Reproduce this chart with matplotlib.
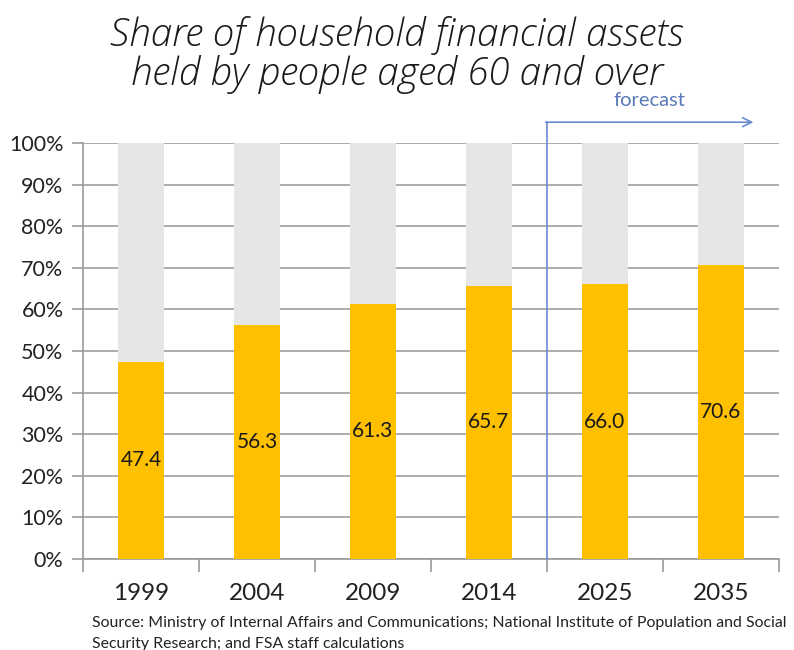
# Share of household financial assets held by people aged 60 and over

import numpy as np
import matplotlib.pyplot as plt

years = ['1999', '2004', '2009', '2014', '2025', '2035']
share_60_plus = [47.4, 56.3, 61.3, 65.7, 66.0, 70.6]
rest = [100 - v for v in share_60_plus]
y_ticks = [0, 10, 20, 30, 40, 50, 60, 70, 80, 90, 100]

plt.rcParams['font.family'] = ['Lato', 'DejaVu Sans']

fig = plt.figure(figsize=(7.94, 6.5), dpi=100)
ax = fig.add_axes([0.1045, 0.14, 0.8765, 0.64])

x = np.arange(len(years))
ax.bar(x, share_60_plus, width=0.39, color='#ffc000', zorder=3)
ax.bar(x, rest, width=0.39, bottom=share_60_plus, color='#e6e6e6', zorder=3)

# value labels in the middle of the orange part
for xi, v in zip(x, share_60_plus):
    ax.text(xi, v / 2, f'{v:.1f}', ha='center', va='center', fontsize=15,
            color='#1a1a1a', zorder=4)

ax.set_xlim(-0.5, len(years) - 0.5)
ax.set_ylim(0, 100)
ax.set_yticks(y_ticks)
ax.set_yticklabels([f'{t}%' for t in y_ticks], fontsize=15.5, color='#222222')
ax.set_xticks(x)
ax.set_xticklabels(years, fontsize=17.5, color='#222222')
ax.set_xticks(np.arange(-0.5, len(years)), minor=True)
ax.tick_params(axis='x', which='major', length=0, pad=17)
ax.tick_params(axis='x', which='minor', length=9, color='#999999', width=1.2)
ax.tick_params(axis='y', length=8, color='#999999', width=1.2, pad=6)

ax.grid(axis='y', color='#a6a6a6', linewidth=1.3, zorder=0)
for side in ['top', 'right']:
    ax.spines[side].set_visible(False)
for side in ['left', 'bottom']:
    ax.spines[side].set_color('#999999')
    ax.spines[side].set_linewidth(1.2)

# forecast marker
ax.plot([3.5, 3.5], [0, 105], color='#6a8ad0', linewidth=1.2,
        clip_on=False, zorder=5)
ax.annotate('', xy=(5.28, 105), xytext=(3.49, 105), xycoords='data',
            arrowprops=dict(arrowstyle='->', color='#6a8ad0', lw=1.2,
                            mutation_scale=16, shrinkA=0, shrinkB=0),
            annotation_clip=False)
ax.text(4.38, 110.2, 'forecast', ha='center', va='center', fontsize=14.5,
        color='#5a78b8')

title_font = ['Open Sans', 'Lato', 'DejaVu Sans']
fig.text(0.5, 0.945, 'Share of household financial assets', ha='center',
         va='center', fontsize=27.8, style='italic', fontweight='light',
         family=title_font, color='#1a1a1a')
fig.text(0.5, 0.885, 'held by people aged 60 and over', ha='center',
         va='center', fontsize=27.8, style='italic', fontweight='light',
         family=title_font, color='#1a1a1a')

fig.text(0.116, 0.041, 'Source: Ministry of Internal Affairs and Communications; '
         'National Institute of Population and Social', fontsize=11.4,
         color='#222222', va='center')
fig.text(0.116, 0.009, 'Security Research; and FSA staff calculations',
         fontsize=11.4, color='#222222', va='center')

fig.savefig('out.png', dpi=100)
